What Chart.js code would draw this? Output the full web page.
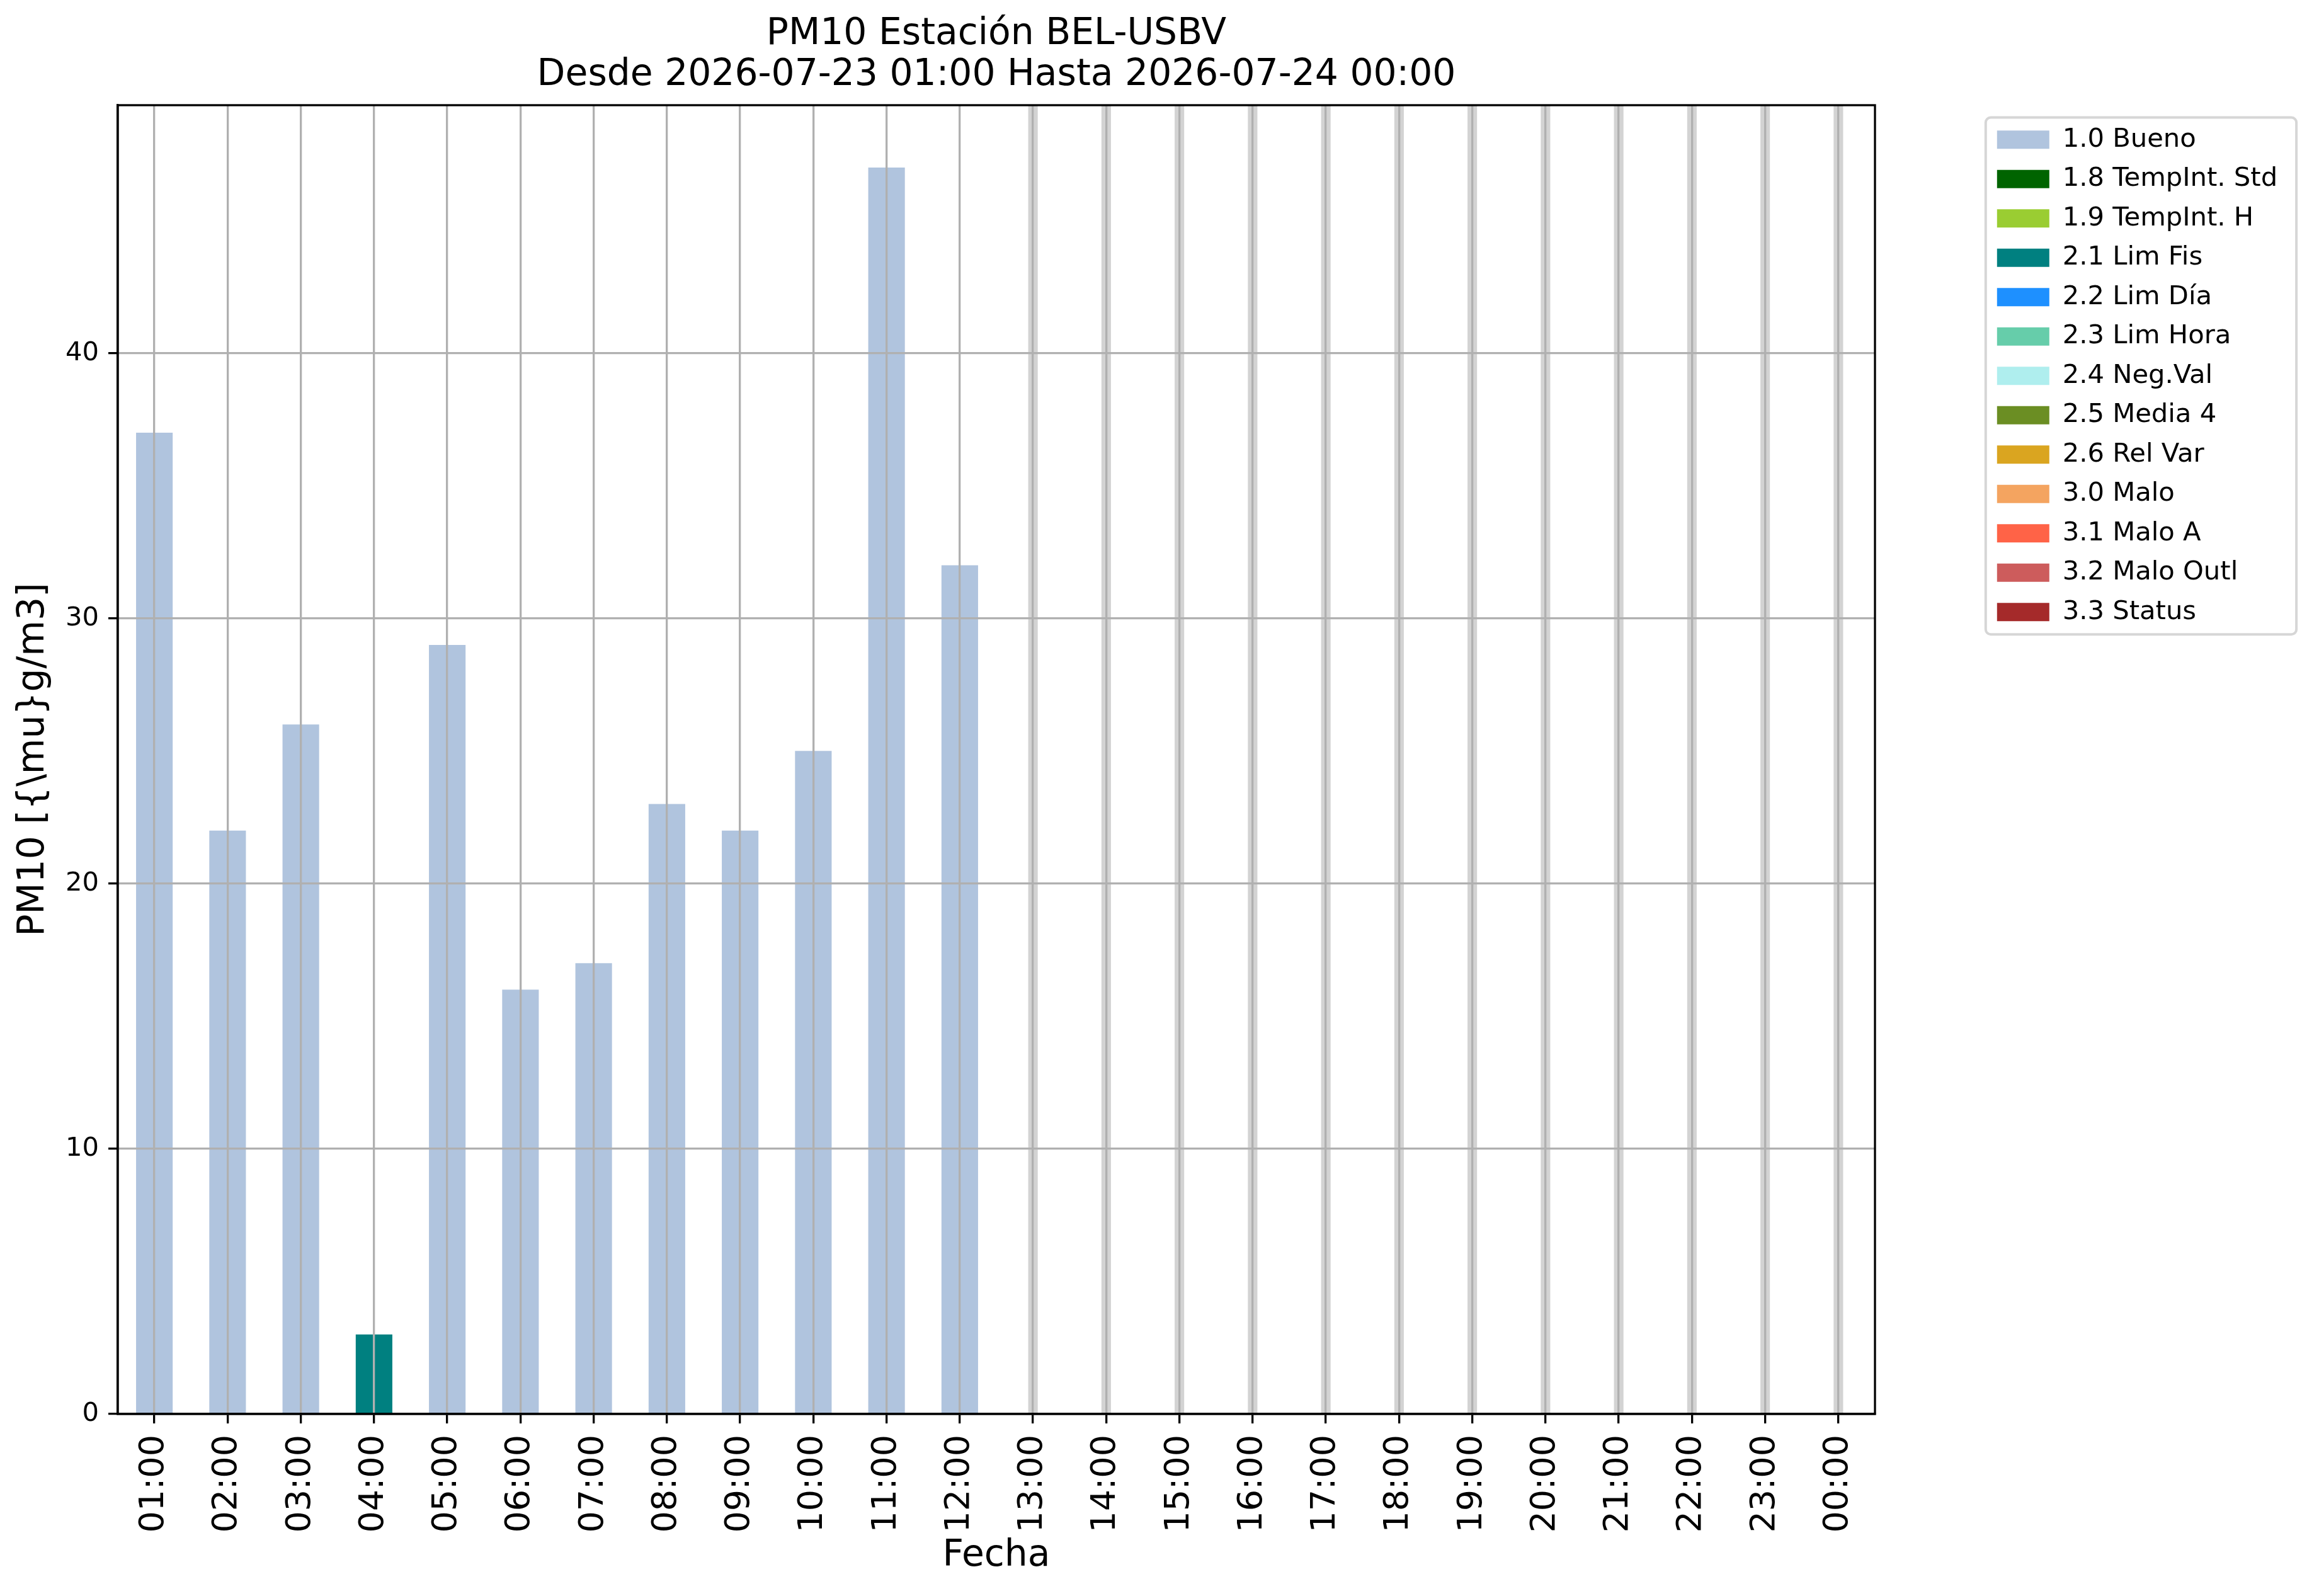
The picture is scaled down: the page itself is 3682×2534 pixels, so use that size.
<!DOCTYPE html>
<html>
<head>
<meta charset="utf-8">
<script src="https://cdn.jsdelivr.net/npm/chart.js@4.4.1/dist/chart.umd.min.js"></script>
<style>
  html, body { margin: 0; padding: 0; background: #fff; }
  #wrap { width: 3682px; height: 2534px; }
</style>
</head>
<body>
<div id="wrap"><canvas id="grafico"></canvas></div>
<script>
// horas del eje x
const horas = ['01:00', '02:00', '03:00', '04:00', '05:00', '06:00', '07:00', '08:00',
  '09:00', '10:00', '11:00', '12:00', '13:00', '14:00', '15:00', '16:00',
  '17:00', '18:00', '19:00', '20:00', '21:00', '22:00', '23:00', '00:00'];

// flags de validacion y sus colores
const etiquetas = ['1.0 Bueno', '1.8 TempInt. Std', '1.9 TempInt. H', '2.1 Lim Fis', '2.2 Lim Día',
  '2.3 Lim Hora', '2.4 Neg.Val', '2.5 Media 4', '2.6 Rel Var', '3.0 Malo', '3.1 Malo A',
  '3.2 Malo Outl', '3.3 Status'];
const colores = ['#b0c4de', '#006400', '#9acd32', '#008080', '#1e90ff', '#66cdaa', '#afeeee',
  '#6b8e23', '#daa520', '#f4a460', '#ff6347', '#cd5c5c', '#a52a2a'];

// valores PM10 por flag
const bueno = [37, 22, 26, null, 29, 16, 17, 23, 22, 25, 47, 32,
  null, null, null, null, null, null, null, null, null, null, null, null];
const limFis = [null, null, null, 3, null, null, null, null, null, null, null, null,
  null, null, null, null, null, null, null, null, null, null, null, null];
// horas sin dato (1 = falta)
const sinDato = [0, 0, 0, 0, 0, 0, 0, 0, 0, 0, 0, 0, 1, 1, 1, 1, 1, 1, 1, 1, 1, 1, 1, 1];
const ticksY = [0, 10, 20, 30, 40];

const Y_MAX = 49.35;
const LW = 3.3;

Chart.defaults.font.family = "'DejaVu Sans', sans-serif";
Chart.defaults.color = '#000';

const series = { 0: bueno, 3: limFis };
const datasets = etiquetas.map((lab, i) => ({
  label: lab,
  data: series[i] || horas.map(() => null),
  backgroundColor: colores[i],
  borderWidth: 0,
  barPercentage: 0.5,
  categoryPercentage: 1
}));
datasets.push({
  label: 'Sin dato',
  data: sinDato.map(v => v ? Y_MAX : null),
  backgroundColor: '#d3d3d3',
  borderWidth: 0,
  barPercentage: 0.13,
  categoryPercentage: 1
});

const marco = {
  id: 'marco',
  afterDraw(chart) {
    const { ctx, chartArea: a, legend } = chart;
    ctx.save();
    ctx.strokeStyle = '#000';
    ctx.lineWidth = LW;
    ctx.strokeRect(a.left, a.top, a.right - a.left, a.bottom - a.top);
    const hb = legend.legendHitBoxes;
    if (hb && hb.length) {
      const l = hb[0].left - 18;
      const t = hb[0].top - 14.5;
      const r = Math.max(...hb.map(h => h.left + h.width)) + 30;
      const last = hb[hb.length - 1];
      const b = last.top + last.height + 14.5;
      ctx.strokeStyle = '#d6d6d6';
      ctx.lineWidth = 4;
      ctx.beginPath();
      ctx.roundRect(l, t, r - l, b - t, 8);
      ctx.stroke();
    }
    ctx.restore();
  }
};

const chart = new Chart(document.getElementById('grafico'), {
  type: 'bar',
  data: { labels: horas, datasets: datasets },
  options: {
    responsive: true,
    maintainAspectRatio: false,
    devicePixelRatio: 1,
    animation: false,
    layout: { padding: { left: 0, right: 0, top: 0, bottom: 0 } },
    plugins: {
      tooltip: { enabled: false },
      title: {
        display: true,
        fullSize: false,
        text: ['PM10 Estación BEL-USBV', 'Desde 2026-07-23 01:00 Hasta 2026-07-24 00:00'],
        font: { size: 58.3, weight: 'normal', lineHeight: 1.115 },
        color: '#000',
        padding: { top: 22.5, bottom: 14.5 }
      },
      legend: {
        position: 'right',
        align: 'start',
        fullSize: false,
        title: { display: true, text: '', font: { size: 1 }, padding: { top: 0, bottom: 12 } },
        labels: {
          boxWidth: 83,
          boxHeight: 29,
          padding: 20.8,
          color: '#000',
          font: { size: 41.7 },
          filter: item => item.text !== 'Sin dato'
        }
      }
    },
    scales: {
      x: {
        stacked: true,
        offset: true,
        grid: { z: 1, offset: false, color: '#b0b0b0', lineWidth: LW, tickColor: '#000', tickLength: 15, tickWidth: LW },
        border: { z: 2, display: true, color: '#000', width: LW },
        ticks: { autoSkip: false, maxRotation: 90, minRotation: 90, padding: 18, font: { size: 54 }, color: '#000' },
        title: { display: true, text: 'Fecha', font: { size: 58.3 }, color: '#000', padding: { top: 0, bottom: 28 } },
        afterFit: s => { s.height = 289; }
      },
      y: {
        stacked: true,
        min: 0,
        max: Y_MAX,
        grid: { z: 1, color: '#b0b0b0', lineWidth: LW, tickColor: '#000', tickLength: 15, tickWidth: LW },
        border: { z: 2, display: true, color: '#000', width: LW },
        afterBuildTicks: s => { s.ticks = ticksY.map(v => ({ value: v })); },
        ticks: { padding: 15, font: { size: 41.7 }, color: '#000' },
        title: { display: true, text: 'PM10 [{\\mu}g/m3]', font: { size: 58.3 }, color: '#000', padding: { top: 19, bottom: 0 } },
        afterFit: s => { s.width = 187; }
      },
      y2: {
        position: 'right',
        display: true,
        grid: { display: false, drawTicks: false },
        border: { display: false },
        ticks: { display: false },
        afterFit: s => { s.width = 173; }
      }
    }
  },
  plugins: [marco]
});

// coloca la leyenda donde empieza en la figura original
chart.options.layout.padding.right = Math.max(0, 3682 - 3150 - chart.legend.width);
chart.update();
</script>
</body>
</html>
